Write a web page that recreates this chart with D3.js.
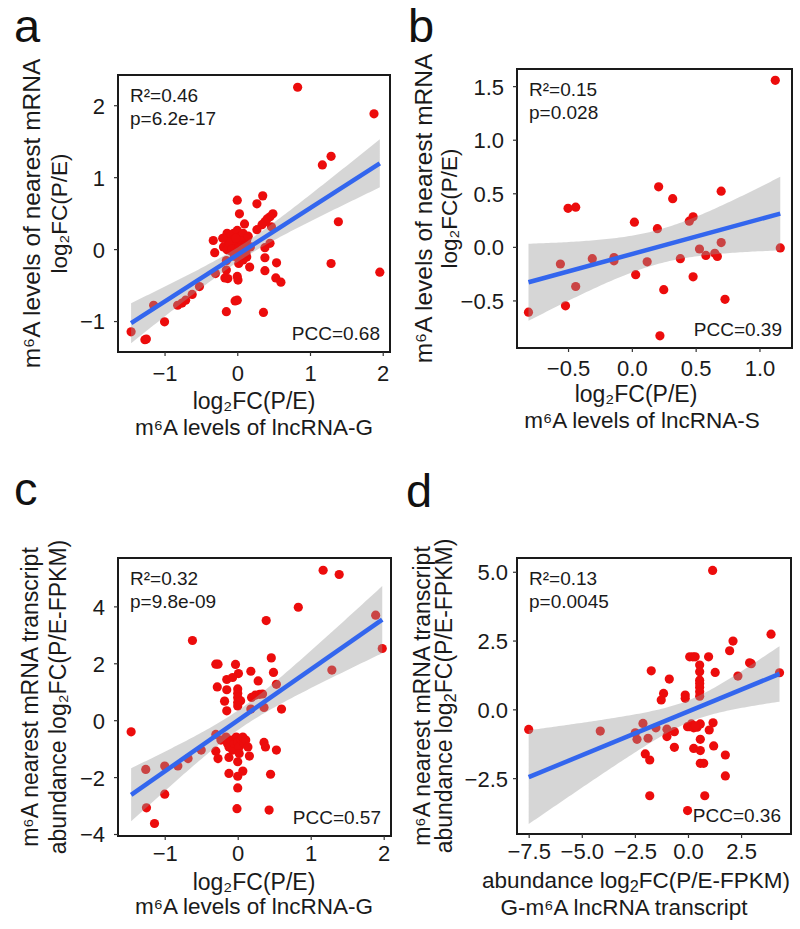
<!DOCTYPE html>
<html><head><meta charset="utf-8">
<script src="https://cdn.jsdelivr.net/npm/d3@7"></script>
<style>body{margin:0;background:#fff}</style>
</head><body>
<svg id="fig" width="800" height="929"></svg>
<script>
// ---------- DATA ----------
const aX = [0.83,1.88,1.29,1.17,1.39,1.29,1.96,0.35,0.27,0.00,0.03,0.10,0.49,0.45,0.41,0.38,0.34,0.27,0.47,0.45,0.38,0.54,0.38,0.38,0.53,0.60,0.17,-0.33,-0.31,-0.15,-0.15,-0.13,-0.17,0.00,0.01,0.00,-0.03,-0.15,0.36,
 -0.14,-0.10,-0.05,0.00,0.04,0.08,0.13,-0.05,0.04,0.08,0.00,0.04,0.13,0.18,-0.19,-0.14,-0.08,0.02,0.08,-0.12,0.05,0.10,-0.02,0.15,-0.07,0.12,0.02,-0.20,0.06,-0.04,
 -0.52,-0.62,-0.71,-0.76,-0.82,-1.15,-1.00,-1.46,-1.27,-1.25,-0.30];
const aY = [2.25,1.88,1.29,1.17,0.38,-0.20,-0.32,0.74,0.63,0.68,0.49,0.35,0.49,0.45,0.42,0.38,0.34,0.27,0.31,0.08,0.02,-0.19,-0.12,-0.30,-0.40,-0.46,-0.25,0.12,-0.05,-0.16,-0.29,-0.41,-0.40,-0.38,-0.43,-0.71,-0.72,-0.87,-0.88,
 0.22,0.17,0.22,0.26,0.17,0.22,0.125,0.08,0.06,0.01,-0.06,-0.15,-0.11,0.03,0.03,-0.01,-0.03,-0.20,-0.15,0.10,0.12,0.05,0.15,0.18,0.00,-0.05,0.02,0.15,-0.08,-0.10,
 -0.52,-0.63,-0.71,-0.75,-0.78,-0.78,-1.01,-1.15,-1.26,-1.25,-0.34];

const bX = [1.124,1.163,0.70,0.70,0.73,0.65,0.67,0.58,0.53,0.48,0.45,0.48,0.32,0.38,0.21,0.20,0.25,0.22,0.12,0.02,0.03,-0.14,-0.14,-0.31,-0.56,-0.44,-0.52,-0.50,-0.44,-0.81];
const bY = [1.554,-0.01,0.52,0.04,-0.49,-0.06,-0.09,-0.08,-0.02,0.28,0.24,-0.28,0.45,-0.11,0.56,0.17,-0.40,-0.83,-0.14,0.23,-0.26,-0.10,-0.13,-0.11,-0.16,-0.37,-0.55,0.36,0.37,-0.61];

const cX = [1.17,1.39,0.83,0.39,1.89,1.98,1.29,-0.62,
 0.46,0.49,0.53,0.60,0.28,0.18,0.19,0.24,0.30,0.34,0.36,0.18,
 -0.30,-0.27,-0.03,0.01,-0.15,-0.07,-0.28,-0.15,-0.18,-0.15,
 0.00,0.00,0.00,0.00,0.04,0.00,
 -1.46,-1.26,-1.00,-0.82,-0.68,-0.50,-1.00,-1.25,-1.14,
 -0.30,-0.30,-0.27,
 -0.23,-0.16,-0.14,-0.12,-0.09,-0.07,-0.05,-0.02,0.00,0.02,0.05,0.07,0.09,0.11,0.14,0.02,-0.12,0.00,0.16,0.07,-0.12,0.00,0.00,
 0.36,0.38,0.53,0.45,-0.01,0.43];
const cY = [5.27,5.12,3.97,3.50,3.69,2.52,1.76,2.80,
 2.19,1.68,1.26,0.39,1.38,1.72,0.80,0.88,0.91,0.92,0.45,0.39,
 1.97,1.97,1.96,1.64,1.43,1.50,1.17,1.07,0.67,0.33,
 1.10,0.95,0.80,0.62,0.68,0.50,
 -0.41,-1.73,-1.61,-1.61,-1.35,-1.05,-2.60,-3.08,-3.63,
 -0.50,-1.09,-1.35,
 -0.70,-0.59,-0.82,-0.94,-0.70,-1.05,-0.82,-0.59,-0.76,-0.94,-0.70,-0.59,-0.82,-0.70,-0.94,-1.17,-1.31,-1.46,-1.26,-1.79,-1.87,-1.97,-2.38,
 -0.78,-0.94,-1.05,-1.90,-3.11,-3.16];

const dX = [1.16,3.91,4.31,2.12,1.96,2.90,2.98,2.35,0.97,1.28,0.08,0.23,0.34,0.55,0.55,0.55,0.55,0.55,0.55,0.55,-0.13,-0.13,-1.73,-0.88,-1.15,-1.26,
 -7.50,-4.13,
 -2.12,-2.48,-2.40,-1.88,-2.01,-1.80,-1.51,-0.99,-0.99,-0.64,-0.64,0.08,0.16,0.43,0.58,1.18,1.00,0.58,0.27,0.58,1.21,0.58,0.74,1.76,1.76,-1.80,0.79,-0.02,-0.02,0.27,0.35];
const dY = [5.05,2.73,1.33,2.48,2.13,1.69,1.66,1.21,1.91,1.34,1.91,1.91,1.91,1.61,1.37,1.06,0.94,0.80,0.64,0.48,0.52,0.40,1.40,1.10,0.58,0.34,
 -0.73,-0.79,
 -0.51,-0.85,-1.09,-1.05,-1.62,-1.84,-0.67,-0.72,-0.99,-0.81,-1.38,-0.63,-0.53,-0.65,-0.53,-0.49,-0.75,-1.09,-1.42,-1.50,-1.33,-1.96,-1.96,-1.66,-2.42,-3.14,-3.14,-3.68,-0.63,-0.67,-0.60];

// axis extents and tick values
const aXDomain = [-1.64, 2.10], aYDomain = [-1.43, 2.42];
const bXDomain = [-0.90, 1.255], bYDomain = [-0.944, 1.66];
const cXDomain = [-1.64, 2.10], cYDomain = [-4.07, 5.70];
const dXDomain = [-8.05, 4.85], dYDomain = [-4.53, 5.50];
const aXTicks = [-1,0,1,2], aYTicks = [-1,0,1,2];
const bXTicks = [-0.5,0,0.5,1.0], bYTicks = [-0.5,0,0.5,1.0,1.5];
const cXTicks = [-1,0,1,2], cYTicks = [-4,-2,0,2,4];
const dXTicks = [-7.5,-5,-2.5,0,2.5], dYTicks = [-2.5,0,2.5,5];

const aStats = ["R²=0.46","p=6.2e-17","PCC=0.68"];
const bStats = ["R²=0.15","p=0.028","PCC=0.39"];
const cStats = ["R²=0.32","p=9.8e-09","PCC=0.57"];
const dStats = ["R²=0.13","p=0.0045","PCC=0.36"];

// ---------- DRAWING ----------
const FONT = "'Liberation Sans', Arial, Helvetica, sans-serif";
const svg = d3.select("#fig");

function tq975(df){ // Student t 0.975 quantile (Cornish-Fisher expansion)
  const z = 1.959964;
  return z + (z**3+z)/(4*df) + (5*z**5+16*z**3+3*z)/(96*df*df) + (3*z**7+19*z**5+17*z**3-15*z)/(384*df**3);
}
function fit(xs, ys){
  const n = xs.length, mx = d3.mean(xs), my = d3.mean(ys);
  let sxx=0, sxy=0;
  for(let i=0;i<n;i++){ sxx+=(xs[i]-mx)**2; sxy+=(xs[i]-mx)*(ys[i]-my); }
  const b = sxy/sxx, a = my-b*mx;
  let sse=0; for(let i=0;i<n;i++){ sse+=(ys[i]-a-b*xs[i])**2; }
  const s = Math.sqrt(sse/(n-2)), t = tq975(n-2);
  return {a,b,pred:x=>a+b*x, half:x=>t*s*Math.sqrt(1/n+(x-mx)**2/sxx)};
}

function addRich(sel, parts){ // parts: [text, 'sub'|'subEnd'|null]
  parts.forEach(p=>{
    const t = sel.append("tspan").text(p[0]);
    if(p[1]==="sub"){ t.attr("font-size","0.72em").attr("dy","0.25em"); }
    if(p[1]==="subEnd"){ t.attr("dy","-0.18em"); }
  });
}

function panel(cfg){
  const [L,T,R,B] = cfg.box;
  const g = svg.append("g");
  const x = d3.scaleLinear().domain(cfg.xDom).range([L,R]);
  const y = d3.scaleLinear().domain(cfg.yDom).range([B,T]);
  const clipId = "clip"+cfg.id;
  g.append("clipPath").attr("id",clipId).append("rect").attr("x",L).attr("y",T).attr("width",R-L).attr("height",B-T);

  const pts = cfg.xs.map((v,i)=>[v,cfg.ys[i]]);
  const plot = g.append("g").attr("clip-path",`url(#${clipId})`);
  plot.selectAll("circle").data(pts).join("circle")
    .attr("cx",d=>x(d[0])).attr("cy",d=>y(d[1])).attr("r",4.6)
    .attr("fill","#ec0c0c");

  const f = fit(cfg.xs, cfg.ys);
  const [x0,x1] = d3.extent(cfg.xs);
  const xsamp = d3.range(0,101).map(i=>x0+(x1-x0)*i/100);
  plot.append("path").datum(xsamp)
    .attr("d", d3.area().x(d=>x(d)).y0(d=>y(f.pred(d)-f.half(d))).y1(d=>y(f.pred(d)+f.half(d))))
    .attr("fill","#999999").attr("fill-opacity",0.4);
  plot.append("path").datum([x0,x1])
    .attr("d", d3.line().x(d=>x(d)).y(d=>y(f.pred(d))))
    .attr("stroke","#3366ee").attr("stroke-width",4.5).attr("fill","none");

  // frame
  g.append("rect").attr("x",L).attr("y",T).attr("width",R-L).attr("height",B-T)
    .attr("fill","none").attr("stroke","#1a1a1a").attr("stroke-width",2);

  // axes
  const fmt = cfg.fmt;
  const xa = g.append("g").attr("transform",`translate(0,${B})`)
    .call(d3.axisBottom(x).tickValues(cfg.xTicks).tickFormat(fmt).tickSize(4).tickPadding(4));
  const ya = g.append("g").attr("transform",`translate(${L},0)`)
    .call(d3.axisLeft(y).tickValues(cfg.yTicks).tickFormat(fmt).tickSize(4).tickPadding(cfg.yPad));
  [xa,ya].forEach(a=>{
    a.select(".domain").remove();
    a.selectAll(".tick line").attr("stroke","#333").attr("stroke-width",1.2);
    a.selectAll("text").attr("font-family",FONT).attr("font-size",22).attr("fill","#1a1a1a");
  });
  xa.selectAll("text").attr("dy",null).attr("y",cfg.xLabBase-B);
  ya.selectAll("text").attr("dy","0.36em");

  // stats text
  const st = g.append("g").attr("font-family",FONT).attr("font-size",19).attr("fill","#1a1a1a");
  st.append("text").attr("x",L+12).attr("y",T+27).text(cfg.stats[0]);
  st.append("text").attr("x",L+12).attr("y",T+50).text(cfg.stats[1]);
  st.append("text").attr("x",R-10).attr("y",B-12).attr("text-anchor","end").text(cfg.stats[2]);

  // axis titles
  const tg = g.append("g").attr("font-family",FONT).attr("fill","#1a1a1a");
  cfg.xTitle.forEach((parts,i)=>{
    const t = tg.append("text").attr("x",cfg.xTitleX[i]).attr("y",cfg.xTitleY[i])
      .attr("font-size",cfg.xTitleSize[i]).attr("text-anchor","middle");
    addRich(t, parts);
  });
  cfg.yTitle.forEach((parts,i)=>{
    const t = tg.append("text").attr("text-anchor","middle").attr("font-size",cfg.yTitleSize[i])
      .attr("transform",`translate(${cfg.yTitleX[i]},${(T+B)/2}) rotate(-90)`);
    addRich(t, parts);
  });

  // panel letter
  svg.append("text").attr("x",cfg.letterPos[0]).attr("y",cfg.letterPos[1])
    .attr("font-family",FONT).attr("font-size",47).attr("fill","#111").text(cfg.id);
}

const fInt = d3.format("d"), fOne = d3.format(".1f");

panel({id:"a", xs:aX, ys:aY, xDom:aXDomain, yDom:aYDomain, xTicks:aXTicks, yTicks:aYTicks, fmt:fInt,
  box:[118,75,390,352], yPad:9, xLabBase:381, stats:aStats,
  xTitle:[[["log₂FC(P/E)"]],[["m⁶A levels of lncRNA-G"]]], xTitleX:[254,254], xTitleY:[409,435], xTitleSize:[23,22.5],
  yTitle:[[["m⁶A levels of nearest mRNA"]],[["log₂FC(P/E)"]]], yTitleX:[40,67], yTitleSize:[24.5,22.5], letterPos:[14,42]});

panel({id:"b", xs:bX, ys:bY, xDom:bXDomain, yDom:bYDomain, xTicks:bXTicks, yTicks:bYTicks, fmt:fOne,
  box:[517,69,792,348], yPad:9, xLabBase:376, stats:bStats,
  xTitle:[[["log₂FC(P/E)"]],[["m⁶A levels of lncRNA-S"]]], xTitleX:[636,642], xTitleY:[402,428], xTitleSize:[23,22.5],
  yTitle:[[["m⁶A levels of nearest mRNA"]],[["log₂FC(P/E)"]]], yTitleX:[432,457], yTitleSize:[24.5,22.5], letterPos:[408,42]});

panel({id:"c", xs:cX, ys:cY, xDom:cXDomain, yDom:cYDomain, xTicks:cXTicks, yTicks:cYTicks, fmt:fInt,
  box:[118,558,391,836], yPad:9, xLabBase:861, stats:cStats,
  xTitle:[[["log₂FC(P/E)"]],[["m⁶A levels of lncRNA-G"]]], xTitleX:[254,254], xTitleY:[890,914], xTitleSize:[23,22.5],
  yTitle:[[["m⁶A nearest mRNA transcript"]],[["abundance log₂FC(P/E-FPKM)"]]], yTitleX:[38,66], yTitleSize:[23,23], letterPos:[14,505]});

panel({id:"d", xs:dX, ys:dY, xDom:dXDomain, yDom:dYDomain, xTicks:dXTicks, yTicks:dYTicks, fmt:fOne,
  box:[517,558,791,834], yPad:5, xLabBase:859, stats:dStats,
  xTitle:[[["abundance log"],["2","sub"],["FC(P/E-FPKM)","subEnd"]],[["G-m⁶A lncRNA transcript"]]], xTitleX:[636,624], xTitleY:[888,915], xTitleSize:[22.5,22.5],
  yTitle:[[["m⁶A nearest mRNA transcript"]],[["abundance log"],["2","sub"],["FC(P/E-FPKM)","subEnd"]]], yTitleX:[430,452], yTitleSize:[23,23], letterPos:[406,507]});
</script>
</body></html>
